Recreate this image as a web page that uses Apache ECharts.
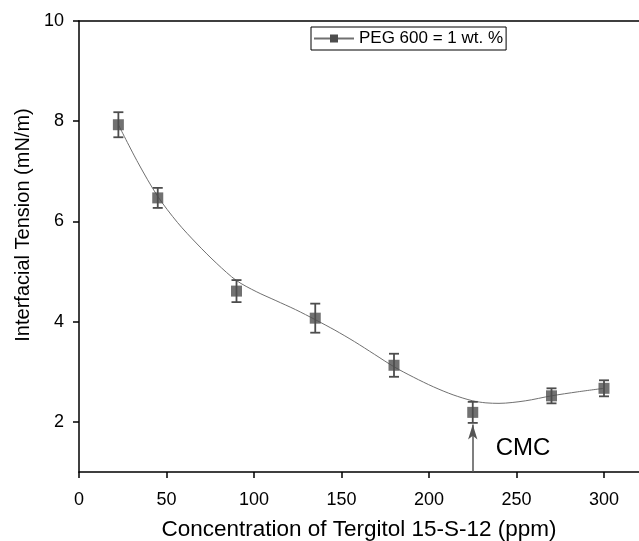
<!DOCTYPE html>
<html>
<head>
<meta charset="utf-8">
<script src="https://cdn.jsdelivr.net/npm/echarts@6/dist/echarts.min.js"></script>
<style>html,body{margin:0;padding:0;background:#fff}#c{width:639px;height:541px}</style>
</head>
<body>
<div id="c"></div>
<script>
// Measured points
const concentration = [22.5, 45, 90, 135, 180, 225, 270, 300];
const tension = [7.93, 6.47, 4.61, 4.07, 3.13, 2.19, 2.52, 2.67];
const tensionErr = [0.25, 0.2, 0.22, 0.29, 0.23, 0.21, 0.15, 0.16];
// Smoothed fit curve
const fitX = [22.5, 33.75, 45, 56.25, 67.5, 78.75, 90, 101.25, 112.5, 123.75, 135, 146.25, 157.5, 168.75, 180, 191.25, 202.5, 213.75, 225, 232.5, 240, 255, 270, 285, 300];
const fitY = [7.93, 7.17, 6.5, 5.98, 5.55, 5.16, 4.82, 4.6, 4.42, 4.24, 4.04, 3.83, 3.6, 3.35, 3.1, 2.89, 2.7, 2.54, 2.42, 2.38, 2.37, 2.42, 2.52, 2.6, 2.67];
const xTicks = [0, 50, 100, 150, 200, 250, 300];
const yTicks = [2, 4, 6, 8, 10];
const cmcX = 225;
const seriesName = 'PEG 600 = 1 wt. %';

const FONT = 'Liberation Sans, Arial, sans-serif';
const chart = echarts.init(document.getElementById('c'), null, {renderer: 'canvas'});

const points = concentration.map((x, i) => [x, tension[i]]);
const errData = concentration.map((x, i) => [x, tension[i] - tensionErr[i], tension[i] + tensionErr[i]]);
const fitData = fitX.map((x, i) => [x, fitY[i]]);

chart.setOption({
  animation: false,
  backgroundColor: '#fff',
  grid: {left: 79, right: 0, top: 21, bottom: 69, containLabel: false, outerBoundsMode: 'none'},
  legend: {
    data: [seriesName],
    left: 311, top: 27,
    itemWidth: 40, itemHeight: 10, itemGap: 4,
    padding: [3, 3, 3, 2],
    borderColor: '#000', borderWidth: 1,
    textStyle: {fontFamily: FONT, fontSize: 17, color: '#000'}
  },
  xAxis: [{
    type: 'value', min: 0, max: 320, interval: 50,
    name: 'Concentration of Tergitol 15-S-12 (ppm)',
    nameLocation: 'middle', nameGap: 46,
    nameTextStyle: {fontFamily: FONT, fontSize: 22.5, color: '#000'},
    axisLine: {show: true, onZero: false, lineStyle: {color: '#000', width: 1.5}},
    axisTick: {show: true, inside: false, length: 6, lineStyle: {color: '#000', width: 1.5}},
    axisLabel: {fontFamily: FONT, fontSize: 18, color: '#000', margin: 19, showMaxLabel: false,
      formatter: v => xTicks.includes(v) ? String(v) : ''},
    splitLine: {show: false}
  }, {
    type: 'value', position: 'top', min: 0, max: 320,
    axisLine: {show: true, lineStyle: {color: '#000', width: 1.5}},
    axisTick: {show: false}, axisLabel: {show: false}, splitLine: {show: false}
  }],
  yAxis: {
    type: 'value', min: 1, max: 10, splitNumber: 5,
    axisLine: {show: true, onZero: false, lineStyle: {color: '#000', width: 1.5}},
    axisTick: {show: true, inside: false, length: 6, lineStyle: {color: '#000', width: 1.5}},
    axisLabel: {fontFamily: FONT, fontSize: 18, color: '#000', margin: 15, showMinLabel: false,
      formatter: v => yTicks.includes(v) ? String(v) : ''},
    splitLine: {show: false}
  },
  graphic: [{
    type: 'text', x: 23, y: 225, rotation: Math.PI / 2,
    style: {text: 'Interfacial Tension (mN/m)', font: '20px ' + FONT, fill: '#000', align: 'center', verticalAlign: 'middle'}
  }],
  series: [{
    name: seriesName, type: 'line', data: fitData, smooth: 0.3,
    symbol: 'rect', symbolSize: 10, showSymbol: false,
    itemStyle: {color: '#4d4d4d'},
    lineStyle: {color: '#707070', width: 1},
    z: 2,
    markLine: {
      silent: true, symbol: ['none', 'arrow'], symbolSize: [7, 15],
      label: {show: false},
      lineStyle: {color: '#555', width: 1.5, type: 'solid'},
      data: [[{coord: [cmcX, 1]}, {coord: [cmcX, 1.95]}]]
    },
    markPoint: {
      silent: true, symbol: 'rect', symbolSize: 1, itemStyle: {color: 'rgba(0,0,0,0)'},
      label: {show: true, formatter: 'CMC', fontFamily: FONT, fontSize: 24, color: '#000', position: 'inside'},
      data: [{coord: [253.7, 1.48]}]
    }
  }, {
    name: 'err', type: 'custom', data: errData, z: 3,
    encode: {x: 0, y: [1, 2]},
    renderItem: (params, api) => {
      const x = api.value(0);
      const lo = api.coord([x, api.value(1)]);
      const hi = api.coord([x, api.value(2)]);
      const w = 5;
      const st = {stroke: '#4d4d4d', lineWidth: 1.8};
      return {type: 'group', children: [
        {type: 'line', shape: {x1: lo[0], y1: lo[1], x2: hi[0], y2: hi[1]}, style: st},
        {type: 'line', shape: {x1: lo[0] - w, y1: lo[1], x2: lo[0] + w, y2: lo[1]}, style: st},
        {type: 'line', shape: {x1: hi[0] - w, y1: hi[1], x2: hi[0] + w, y2: hi[1]}, style: st}
      ]};
    }
  }, {
    name: 'pts', type: 'scatter', data: points, symbol: 'rect', symbolSize: 11,
    itemStyle: {color: '#4d4d4d'}, z: 4
  }]
});
</script>
</body>
</html>
